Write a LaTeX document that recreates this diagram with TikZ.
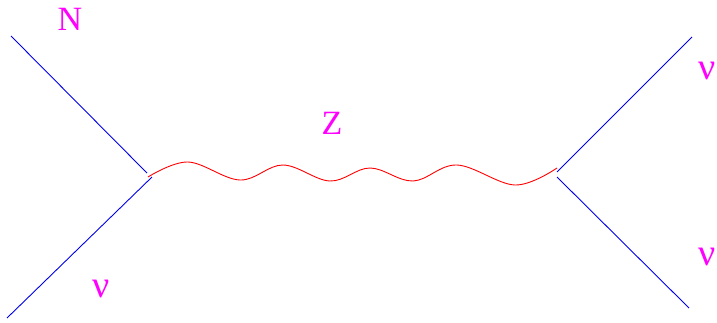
\documentclass[tikz,border=0pt]{standalone}
\usepackage{fontspec}
\setmainfont{Liberation Serif}
\definecolor{mag}{RGB}{255,0,255}
\definecolor{fblue}{RGB}{0,0,230}
\definecolor{bred}{RGB}{255,0,0}
\begin{document}
\begin{tikzpicture}[x=1pt,y=-1pt,
  fermion/.style={draw=fblue,line width=0.9pt},
  boson/.style={draw=bred,line width=0.9pt},
  lab/.style={text=mag,font=\fontsize{34}{34}\selectfont,inner sep=0pt}]
\useasboundingbox (0,0) rectangle (717,322);
\coordinate (a) at (11,36);
\coordinate (v1a) at (147,173);
\coordinate (b) at (7,318);
\coordinate (v1b) at (152,177);
\coordinate (w1) at (148,177);
\coordinate (w2) at (557,168);
\coordinate (v2a) at (557,172);
\coordinate (v2b) at (557,177);
\coordinate (c) at (692,37);
\coordinate (d) at (689,308);
\draw[fermion] (a) -- (v1a);
\draw[fermion] (b) -- (v1b);
\draw[fermion] (v2a) -- (c);
\draw[fermion] (v2b) -- (d);
\draw[boson] plot[smooth,tension=0.6] coordinates {(w1) (188,162) (240,180) (283,165) (330,181) (370,168) (413,181) (457,165) (515,185) (w2)};
\node[lab] (N) at (70,19) {N};
\node[lab] (nu1) at (101,289) {\fontsize{38}{38}\selectfont ν};
\node[lab] (Z) at (332,123) {Z};
\node[lab] (nu2) at (707,71) {\fontsize{38}{38}\selectfont ν};
\node[lab] (nu3) at (707,257) {\fontsize{38}{38}\selectfont ν};
\end{tikzpicture}
\end{document}
